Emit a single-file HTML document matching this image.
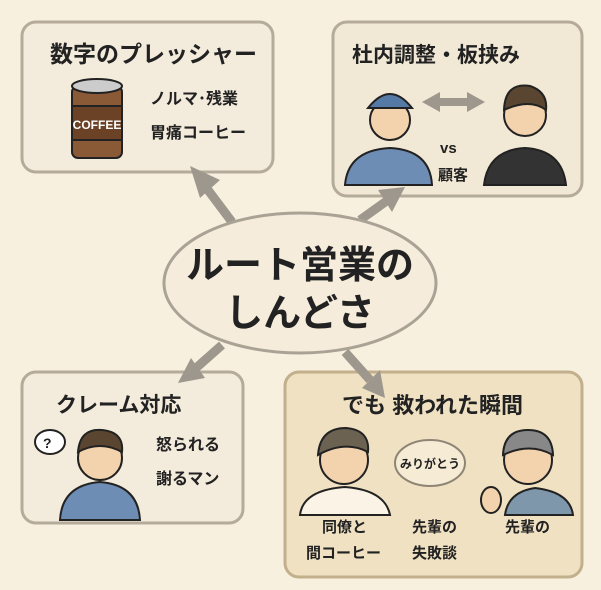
<!DOCTYPE html>
<html><head><meta charset="utf-8"><style>
body{margin:0;background:#f8f0de;}
svg{display:block}
text{font-family:"Liberation Sans","Noto Sans CJK JP",sans-serif;fill:#222;font-weight:bold}
</style></head><body>
<svg width="601" height="590" viewBox="0 0 601 590">
<rect width="601" height="590" fill="#f8f0de"/>
<!-- boxes -->
<rect x="22" y="22" width="251" height="150" rx="14" fill="#f3ebdb" stroke="#b5ab9a" stroke-width="3"/>
<rect x="333" y="22" width="249" height="174" rx="14" fill="#f1e8d6" stroke="#b5ab9a" stroke-width="3"/>
<rect x="22" y="372" width="221" height="151" rx="14" fill="#f3ebdb" stroke="#b5ab9a" stroke-width="3"/>
<rect x="285" y="372" width="297" height="205" rx="14" fill="#efe1c2" stroke="#c2b08c" stroke-width="3"/>
<!-- arrows -->
<g stroke="#9d978d" stroke-width="9" fill="#9d978d">
<line x1="232" y1="222" x2="208" y2="190"/>
<line x1="360" y1="220" x2="388" y2="200"/>
<line x1="222" y1="345" x2="196" y2="368"/>
<line x1="345" y1="352" x2="370" y2="380"/>
</g>
<g fill="#9d978d">
<polygon points="190,166 220,180 200,198"/>
<polygon points="405,187 378,190 392,212"/>
<polygon points="178,383 191,358 205,378"/>
<polygon points="385,398 362,388 380,370"/>
</g>
<!-- center -->
<ellipse cx="300" cy="283" rx="136" ry="70" fill="#f5ecdb" stroke="#aaa294" stroke-width="3"/>
<text x="300" y="278" font-size="38" text-anchor="middle">ルート営業の</text>
<text x="300" y="326" font-size="38" text-anchor="middle">しんどさ</text>
<!-- box1 -->
<text x="50" y="62" font-size="23">数字のプレッシャー</text>
<text x="150" y="104" font-size="16" font-weight="normal">ノルマ･残業</text>
<text x="150" y="138" font-size="16" font-weight="normal">胃痛コーヒー</text>
<g stroke="#222" stroke-width="2">
<rect x="72" y="86" width="50" height="72" rx="6" fill="#8a5a36"/>
<rect x="72" y="106" width="50" height="34" fill="#6b4226"/>
<ellipse cx="97" cy="86" rx="25" ry="7" fill="#ccc"/>
</g>
<text x="97" y="129" font-size="12" fill="#fff" text-anchor="middle" style="fill:#fff">COFFEE</text>
<!-- box2 -->
<text x="352" y="62" font-size="21">杜内調整・板挟み</text>
<g stroke="#222" stroke-width="2">
<path d="M345 185 Q348 150 390 148 Q430 150 432 185 Z" fill="#6e8db4"/>
<circle cx="390" cy="120" r="20" fill="#f2d3ae"/>
<path d="M368 108 Q390 80 412 108 Z" fill="#557aa6"/>
<path d="M484 185 Q488 150 525 148 Q562 150 566 185 Z" fill="#333"/>
<circle cx="525" cy="115" r="21" fill="#f2d3ae"/>
<path d="M504 110 Q505 82 530 86 Q548 92 546 110 Q530 98 504 110Z" fill="#5a4530"/>
</g>
<g fill="#9d978d"><polygon points="422,102 440,92 440,112"/><polygon points="485,102 467,92 467,112"/><rect x="438" y="98" width="31" height="8"/></g>
<text x="440" y="153" font-size="15">vs</text>
<text x="438" y="180" font-size="15">顧客</text>
<!-- box3 -->
<text x="56" y="412" font-size="21">クレーム対応</text>
<text x="156" y="450" font-size="16">怒られる</text>
<text x="156" y="484" font-size="16">謝るマン</text>
<g stroke="#222" stroke-width="2">
<path d="M60 520 Q62 485 100 482 Q138 485 140 520 Z" fill="#6e8db4"/>
<circle cx="100" cy="458" r="22" fill="#f2d3ae"/>
<path d="M78 452 Q80 428 102 430 Q124 432 122 452 Q100 440 78 452Z" fill="#5a4530"/>
<ellipse cx="50" cy="442" rx="15" ry="12" fill="#fff"/>
</g>
<text x="43" y="448" font-size="14">?</text>
<!-- box4 -->
<text x="342" y="413" font-size="22">でも 救われた瞬間</text>
<g stroke="#222" stroke-width="2">
<path d="M300 515 Q303 490 345 487 Q385 490 390 515 Z" fill="#fbf4e6"/>
<circle cx="344" cy="460" r="24" fill="#f2d3ae"/>
<path d="M318 455 Q320 428 346 428 Q370 430 368 452 Q345 440 318 455Z" fill="#6b6252"/>
<path d="M505 515 Q508 492 535 488 Q570 492 573 515 Z" fill="#7f97ab"/>
<circle cx="528" cy="460" r="24" fill="#f2d3ae"/>
<path d="M503 455 Q504 430 528 430 Q552 430 553 455 Q530 442 503 455Z" fill="#888"/>
<ellipse cx="491" cy="500" rx="10" ry="13" fill="#f2d3ae"/>
</g>
<ellipse cx="430" cy="463" rx="35" ry="23" fill="#f6ecd6" stroke="#8f8575" stroke-width="2"/>
<text x="430" y="468" font-size="12" font-weight="normal" text-anchor="middle" fill="#555">みりがとう</text>
<text x="322" y="532" font-size="15">同僚と</text>
<text x="306" y="558" font-size="15">間コーヒー</text>
<text x="412" y="532" font-size="15">先輩の</text>
<text x="412" y="558" font-size="15">失敗談</text>
<text x="505" y="532" font-size="15">先輩の</text>
</svg>
</body></html>
